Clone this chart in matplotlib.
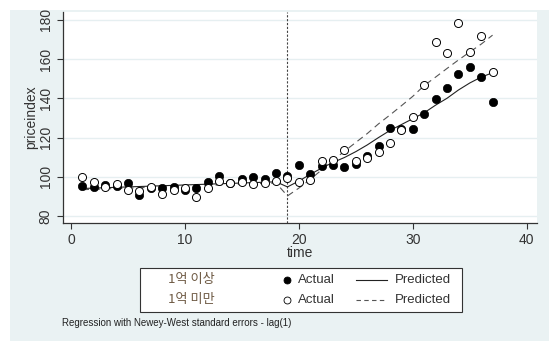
import numpy as np
import matplotlib.pyplot as plt
from matplotlib.patches import Rectangle
from matplotlib.lines import Line2D

plt.rcParams['font.family'] = ['Liberation Sans', 'Noto Sans CJK KR']

# 데이터
time = np.arange(1, 38)
actual_hi = [95.4, 95.0, 96.0, 95.5, 96.8, 90.8, 94.0, 94.0, 95.0, 93.4,
             94.4, 97.3, 100.5, 96.8, 98.8, 100.0, 99.0, 101.9, 100.5, 105.8,
             101.4, 105.3, 105.8, 104.9, 106.5, 110.4, 115.5, 124.8, 124.5, 124.5,
             132.1, 139.8, 145.3, 152.6, 155.8, 150.9, 137.9]
actual_lo = [99.8, 97.3, 95.0, 96.5, 93.4, 92.5, 94.8, 91.3, 93.4, 94.0,
             89.6, 94.0, 97.6, 96.8, 97.5, 96.3, 96.8, 98.0, 99.5, 97.1,
             98.5, 108.2, 108.7, 113.4, 107.8, 109.5, 112.4, 117.2, 124.0, 130.3,
             146.6, 168.7, 163.0, 178.6, 163.6, 171.6, 153.4]
pred_hi = [94.0, 94.2, 94.4, 94.6, 94.8, 95.0, 95.2, 95.4, 95.6, 95.8,
           96.0, 96.2, 96.4, 96.6, 96.8, 97.0, 97.2, 97.4, 94.8, 97.8,
           101.2, 104.4, 107.3, 109.8, 112.8, 116.2, 120.0, 123.6, 126.6, 129.6,
           132.6, 136.5, 140.0, 144.2, 147.8, 150.8, 153.0]
pred_lo = [93.4, 93.6, 93.8, 94.0, 94.2, 94.4, 94.6, 94.8, 95.0, 95.2,
           95.4, 95.6, 95.8, 96.0, 96.2, 96.4, 96.6, 96.8, 90.2, 94.2,
           98.6, 103.5, 108.4, 113.0, 117.5, 122.0, 127.0, 131.5, 136.2, 141.0,
           146.5, 150.8, 155.2, 159.5, 163.6, 167.6, 172.2]
cut = 19

W, H = 549, 341
fig = plt.figure(figsize=(W / 100, H / 100), dpi=100, facecolor='white')
fig.add_artist(Rectangle((10 / W, 0), 1 - 10 / W, 1 - 10 / H,
                         transform=fig.transFigure, facecolor='#eaf2f3',
                         edgecolor='none', zorder=0))

ax = fig.add_axes([63 / W, (H - 223) / H, (537 - 63) / W, (223 - 12) / H])
ax.set_facecolor('white')
ax.set_xlim(-0.7, 40.9)
ax.set_ylim(76.4, 184.0)
for s in ['top', 'right']:
    ax.spines[s].set_visible(False)
for s in ['left', 'bottom']:
    ax.spines[s].set_color('#333333')
    ax.spines[s].set_linewidth(0.9)
ax.set_yticks([80, 100, 120, 140, 160, 180])
ax.set_xticks([0, 10, 20, 30, 40])
ax.tick_params(axis='y', labelrotation=90, labelsize=10, colors='#333333', length=4)
ax.tick_params(axis='x', labelsize=10, colors='#333333', length=4)
for lab in ax.get_yticklabels():
    lab.set_verticalalignment('center')
ax.grid(axis='y', color='#e6eff1', linewidth=1.0)
ax.set_axisbelow(True)
ax.set_ylabel('priceindex', fontsize=10, color='#333333', labelpad=0)
ax.set_xlabel('time', fontsize=10, color='#333333', labelpad=-1)

ax.axvline(cut, color='#444444', linestyle=(0, (2, 1.5)), linewidth=0.8)

ax.plot(time, pred_hi, color='#222222', linewidth=0.8)
ax.plot(time, pred_lo, color='#555555', linewidth=0.8, linestyle=(0, (6, 4)))
ax.plot(time, actual_hi, 'o', color='black', markersize=6, markeredgewidth=0.5)
ax.plot(time, actual_lo, 'o', markerfacecolor='white', markeredgecolor='black',
        markersize=5.8, markeredgewidth=0.7)

# 범례
fig.add_artist(Rectangle((140 / W, (H - 312) / H), 322 / W, 44 / H,
                         transform=fig.transFigure, facecolor='white',
                         edgecolor='#333333', linewidth=0.8, zorder=2))
rows = [(280, '1억 이상', 'black', '-', '#222222'),
        (300, '1억 미만', 'white', (0, (4, 3)), '#555555')]
for y, name, fc, ls, lc in rows:
    yf = (H - y) / H
    fig.text(191 / W, yf, name, fontsize=9.5, color='#6e5a44', ha='center',
             va='center', family=['Noto Sans CJK KR'], zorder=3)
    fig.add_artist(Line2D([287 / W], [yf], marker='o', markersize=5,
                          markerfacecolor=fc, markeredgecolor='black',
                          markeredgewidth=0.6, transform=fig.transFigure, zorder=3))
    fig.text(298 / W, yf, 'Actual', fontsize=9.5, color='#333333', va='center', zorder=3)
    fig.add_artist(Line2D([356 / W, 387 / W], [yf, yf], color=lc, linestyle=ls,
                          linewidth=0.8, transform=fig.transFigure, zorder=3))
    fig.text(395 / W, yf, 'Predicted', fontsize=9.5, color='#333333', va='center', zorder=3)

fig.text(62 / W, (H - 323) / H, 'Regression with Newey-West standard errors - lag(1)',
         fontsize=7, color='#222222', va='center')

fig.savefig('out.png', dpi=100, facecolor=fig.get_facecolor())
